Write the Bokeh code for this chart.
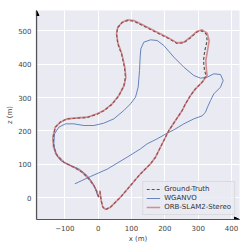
from bokeh.plotting import figure
from bokeh.models import Range1d, Arrow, NormalHead, Legend, LegendItem
from bokeh.embed import file_html
from bokeh.resources import INLINE

gt_x = [2, -3, -13, -28, -48, -73, -103, -123, -133, -135, -128, -113, -93, -63, -33, -3, 17, 42, 62, 77, 82, 79, 70, 59, 55, 59, 72, 89, 107, 127, 167, 207, 237, 257, 277, 297, 311, 324, 327, 320, 316, 319, 324, 312, 292, 277, 262, 252, 232, 212, 197, 182, 172, 157, 137, 127, 97, 67, 37, 22, 14, 9, 5]
gt_z = [1, 16, 36, 56, 76, 91, 106, 126, 151, 181, 211, 227, 236, 238, 240, 250, 260, 280, 305, 335, 361, 391, 431, 461, 491, 510, 525, 531, 529, 519, 499, 479, 462, 464, 479, 497, 500, 491, 471, 441, 411, 381, 366, 346, 326, 306, 281, 261, 231, 201, 171, 141, 121, 101, 81, 71, 36, 1, -29, -36, -29, -9, 21]

orb_x = [2, -3, -13, -28, -48, -73, -103, -123, -134, -136, -129, -113, -93, -63, -33, -3, 17, 42, 62, 78, 83, 80, 71, 60, 55, 59, 72, 89, 107, 127, 167, 207, 237, 257, 277, 297, 312, 327, 333, 328, 323, 325, 327, 312, 292, 277, 262, 252, 232, 212, 197, 182, 172, 157, 137, 127, 97, 67, 37, 22, 14, 9, 5]
orb_z = [1, 16, 36, 56, 76, 91, 106, 126, 151, 181, 211, 226, 236, 239, 241, 251, 261, 281, 306, 336, 361, 391, 431, 461, 491, 511, 526, 533, 531, 521, 501, 481, 464, 466, 481, 499, 503, 493, 471, 441, 411, 381, 366, 346, 326, 306, 281, 261, 231, 201, 171, 141, 121, 101, 81, 71, 36, 1, -29, -36, -29, -9, 21]

wg_x = [-1, -8, -18, -33, -58, -88, -113, -128, -133, -131, -118, -98, -73, -43, -13, 17, 47, 77, 97, 112, 120, 124, 126, 128, 137, 157, 177, 197, 227, 257, 287, 307, 327, 347, 367, 375, 367, 347, 337, 328, 322, 312, 287, 257, 227, 207, 177, 147, 127, 87, 27, -23, -70]
wg_z = [3, 26, 46, 66, 86, 98, 111, 131, 161, 191, 211, 221, 221, 216, 216, 223, 236, 261, 281, 301, 331, 381, 421, 446, 466, 473, 471, 456, 421, 391, 366, 358, 361, 371, 369, 351, 331, 311, 291, 271, 256, 245, 236, 221, 203, 193, 176, 161, 146, 121, 85, 63, 41]

x_ticks = [-100, 0, 100, 200, 300, 400]
y_ticks = [0, 100, 200, 300, 400, 500]

p = figure(width=249, height=249, output_backend="svg", toolbar_location=None,
           x_range=Range1d(-185, 424), y_range=Range1d(-66, 561),
           min_border_left=36, min_border_right=10, min_border_top=10, min_border_bottom=30)
p.background_fill_color = "#EAEAF2"
p.border_fill_color = "white"
p.outline_line_color = None
p.grid.grid_line_color = "white"
p.grid.grid_line_width = 1
p.xaxis.ticker = x_ticks
p.yaxis.ticker = y_ticks
p.xaxis.major_label_overrides = {-100: "\u2212100"}
for ax in (p.xaxis, p.yaxis):
    ax.major_tick_line_color = None
    ax.minor_tick_line_color = None
    ax.major_tick_out = 0
    ax.major_tick_in = 0
    ax.minor_tick_out = 0
    ax.minor_tick_in = 0
    ax.axis_line_color = "#555555"
    ax.axis_line_width = 1.2
    ax.major_label_text_font = "DejaVu Sans"
    ax.major_label_text_font_size = "7px"
    ax.major_label_text_color = "#444444"
    ax.axis_label_text_font = "DejaVu Sans"
    ax.axis_label_text_font_size = "7px"
    ax.axis_label_text_font_style = "normal"
    ax.axis_label_text_color = "#444444"
    ax.major_label_standoff = 5
    ax.axis_label_standoff = 1
p.xaxis.axis_label = "x (m)"
p.yaxis.axis_label = "z (m)"

r_gt = p.line(gt_x, gt_z, line_color="#555555", line_width=1.2, line_dash="3 2")
r_wg = p.line(wg_x, wg_z, line_color="#4C72B0", line_width=1.0, line_alpha=0.85)
r_orb = p.line(orb_x, orb_z, line_color="#C44E52", line_width=1.6, line_alpha=0.6)

p.add_layout(Arrow(end=NormalHead(size=5, fill_color="black", line_color="black"),
                   x_start=-185, y_start=-66, x_end=-185, y_end=561, line_color="#555555", line_width=1.2))
p.add_layout(Arrow(end=NormalHead(size=5, fill_color="black", line_color="black"),
                   x_start=-185, y_start=-66, x_end=424, y_end=-66, line_color="#555555", line_width=1.2))

legend = Legend(items=[LegendItem(label="Ground-Truth", renderers=[r_gt]),
                       LegendItem(label="WGANVO", renderers=[r_wg]),
                       LegendItem(label="ORB-SLAM2-Stereo", renderers=[r_orb])],
                location="bottom_right")
legend.label_text_font = "DejaVu Sans"
legend.label_text_font_size = "7px"
legend.label_text_color = "#333333"
legend.glyph_width = 14
legend.glyph_height = 8
legend.label_height = 8
legend.spacing = 1
legend.padding = 3
legend.margin = 4
legend.label_standoff = 4
legend.background_fill_color = "#EAEAF2"
legend.background_fill_alpha = 0.8
legend.border_line_color = "#CCCCCC"
p.add_layout(legend)

open("out.html", "w").write(file_html(p, INLINE))
